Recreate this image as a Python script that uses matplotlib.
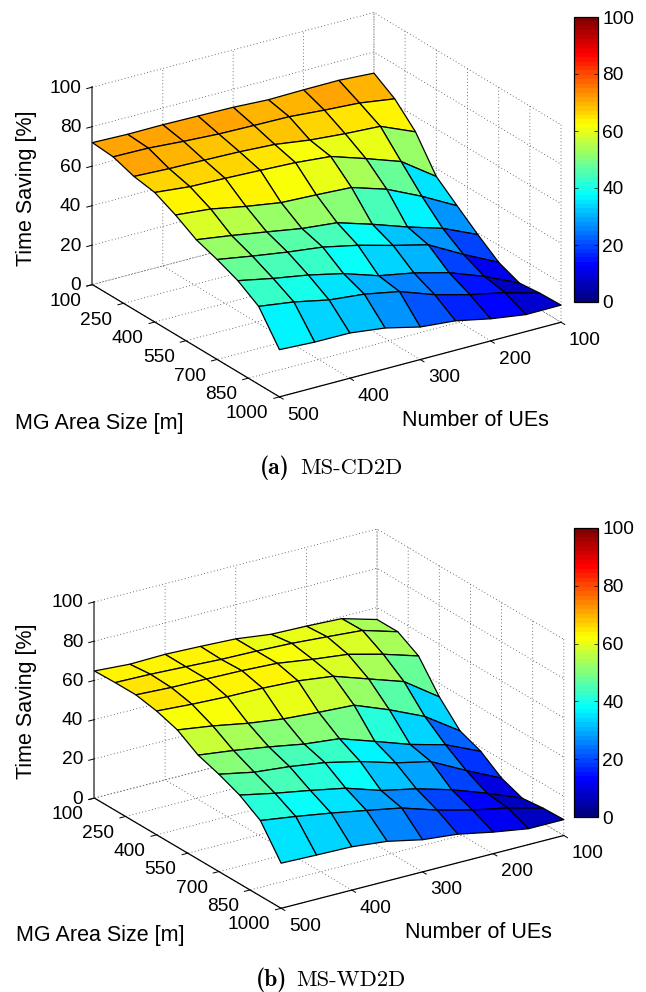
import numpy as np
import matplotlib
matplotlib.use("Agg")
import matplotlib.pyplot as plt
from matplotlib.cm import ScalarMappable
from matplotlib.colors import LinearSegmentedColormap, Normalize
from mpl_toolkits.mplot3d import proj3d

plt.rcParams["font.family"] = "Liberation Sans"

W, H = 646, 992

# time saving [%], one row per MG area size, columns go from 500 UEs down to 100 UEs
ues = [500, 450, 400, 350, 300, 250, 200, 150, 100]
mg_sizes = [100, 200, 300, 400, 500, 600, 700, 800, 900, 1000]

cd2d = [
    [71.9, 71.4, 71.5, 71.2, 70.9, 70.0, 70.3, 70.4, 69.3],
    [71.0, 70.7, 69.4, 68.4, 68.0, 67.7, 66.3, 65.2, 62.6],
    [67.4, 66.6, 66.2, 65.7, 64.7, 62.2, 60.7, 59.7, 52.2],
    [65.6, 63.8, 63.3, 62.6, 61.8, 60.2, 54.4, 48.2, 35.9],
    [60.5, 58.8, 55.4, 52.6, 51.8, 50.8, 45.2, 36.9, 27.4],
    [54.3, 51.7, 48.8, 45.8, 44.0, 38.5, 32.4, 27.0, 19.1],
    [50.6, 47.6, 44.9, 42.7, 38.9, 34.1, 29.7, 20.1, 11.4],
    [46.2, 42.6, 39.6, 35.6, 29.8, 26.5, 21.9, 15.3, 7.2],
    [39.5, 37.0, 33.3, 31.5, 28.1, 21.8, 17.1, 13.4, 8.3],
    [23.9, 23.0, 22.9, 20.7, 16.5, 14.9, 11.2, 8.6, 8.7],
]
wd2d = [
    [64.8, 63.6, 64.0, 63.4, 62.6, 60.3, 59.8, 59.0, 53.9],
    [65.1, 64.7, 63.9, 63.0, 62.6, 61.9, 60.6, 59.2, 53.9],
    [65.1, 64.2, 63.9, 63.5, 62.6, 60.0, 57.9, 53.3, 47.8],
    [63.1, 61.9, 61.1, 60.8, 59.9, 57.6, 51.6, 45.6, 33.2],
    [59.7, 57.1, 53.8, 51.4, 50.1, 49.1, 42.1, 34.1, 22.1],
    [53.1, 50.8, 48.0, 44.8, 42.9, 36.9, 30.7, 25.9, 17.9],
    [49.6, 46.0, 44.2, 41.6, 37.5, 32.2, 28.2, 19.0, 10.5],
    [45.2, 41.5, 38.3, 34.8, 29.0, 25.2, 20.1, 13.7, 6.5],
    [38.5, 35.9, 33.0, 29.7, 26.3, 20.6, 16.0, 12.4, 7.7],
    [23.0, 22.5, 22.1, 20.2, 16.4, 14.6, 11.0, 8.1, 8.1],
]

ue_ticks = [100, 200, 300, 400, 500]
mg_ticks = [100, 250, 400, 550, 700, 850, 1000]
z_ticks = [0, 20, 40, 60, 80, 100]

# matlab's jet, the matplotlib one is stretched a bit differently
cmap = LinearSegmentedColormap.from_list(
    "matlab_jet",
    [(0, (0, 0, 0.5)), (0.125, (0, 0, 1)), (0.375, (0, 1, 1)), (0.625, (1, 1, 0)), (0.875, (1, 0, 0)), (1, (0.5, 0, 0))],
    N=64,
)
norm = Normalize(0, 100)
fig = plt.figure(figsize=(W / 100, H / 100), dpi=100)


def label3d(ax, x, y, z, s, ha):
    px, py, _ = proj3d.proj_transform(x, y, z, ax.get_proj())
    ax.text2D(px, py, s, transform=ax.transData, ha=ha, va="center", fontsize=13.8)


def panel(values, cx, cy, elev, azim, aspect, cbar_top, cbar_bottom, ylab_y, mg_xy, ue_xy, cap_y, cap_x, letter, name):
    side = 509
    ax = fig.add_axes([(cx - 0.5135 * side) / W, 1 - (cy + 0.5135 * side) / H, side / W, side / H],
                      projection="3d", proj_type="ortho")
    ax.patch.set_alpha(0)
    ax.set_box_aspect(aspect)
    ax.view_init(elev=elev, azim=azim)

    # columns flipped so each face takes its colour from the lower UE, lower MG corner
    X, Y = np.meshgrid(np.array(ues)[::-1], mg_sizes)
    Z = np.array(values)[:, ::-1]
    surf = ax.plot_surface(X, Y, Z, rstride=1, cstride=1, facecolors=cmap(norm(Z)),
                           shade=False, antialiased=True, linewidth=0.9)
    surf.set_edgecolor("black")

    ax.set_xlim(100, 500, view_margin=0)
    ax.set_ylim(100, 1000, view_margin=0)
    ax.set_zlim(0, 100, view_margin=0)
    ax.set_xticks(ue_ticks)
    ax.set_yticks(mg_ticks)
    ax.set_zticks(z_ticks)
    for axis in (ax.xaxis, ax.yaxis, ax.zaxis):
        axis.set_tick_params(label1On=False, label2On=False)
        axis.set_pane_color((1, 1, 1, 0))
        axis.pane.set_edgecolor((1, 1, 1, 0))
        axis.line.set_linewidth(0.9)
        axis._axinfo["grid"].update(color="#444444", linestyle=(0, (1, 3)), linewidth=0.6)
        axis._axinfo["tick"].update(inward_factor=0.25, outward_factor=0.0, linewidth={True: 0.7, False: 0.5})
    ax.zaxis.line.set_color("#666666")
    ax.zaxis.line.set_linewidth(1.3)
    ax.grid(True)

    for u in ue_ticks:
        label3d(ax, u, 1115, -2, str(u), "center")
    for m in mg_ticks:
        label3d(ax, 516, m, -7, str(m), "right")
    for z in z_ticks:
        label3d(ax, 516, 100, z + 1, str(z), "right")

    cax = fig.add_axes([574 / W, 1 - cbar_bottom / H, 24 / W, (cbar_bottom - cbar_top) / H])
    cb = fig.colorbar(ScalarMappable(norm=norm, cmap=cmap), cax=cax, ticks=z_ticks)
    cb.ax.tick_params(direction="in", length=3, width=0.5, left=True, right=True, labelsize=13.8, pad=3)
    cb.outline.set_linewidth(0.9)

    fig.text(27 / W, 1 - ylab_y / H, "Time Saving [%]", rotation=90, ha="center", va="center", fontsize=15.5)
    fig.text(mg_xy[0] / W, 1 - mg_xy[1] / H, "MG Area Size [m]", ha="center", va="center", fontsize=15.5)
    fig.text(ue_xy[0] / W, 1 - ue_xy[1] / H, "Number of UEs", ha="center", va="center", fontsize=15.5)
    fig.text(cap_x[0] / W, 1 - cap_y / H, letter, family="cmb10", weight="bold",
             ha="center", va="center", fontsize=17)
    fig.text(cap_x[1] / W, 1 - cap_y / H, name, family="cmr10",
             ha="center", va="center", fontsize=16.2)


panel(cd2d, 326.7, 204.7, 23.5, 56.4, (1.57, 1.57, 1), 17, 302, 188, (99, 423), (475, 420), 468, (275, 351), "(a)", "MS-CD2D")
panel(wd2d, 329.1, 718.7, 22.95, 56.55, (1.59, 1.59, 1), 528, 817, 701, (100, 936), (478, 933), 980, (272, 351), "(b)", "MS-WD2D")

fig.savefig("out.png", dpi=100)
